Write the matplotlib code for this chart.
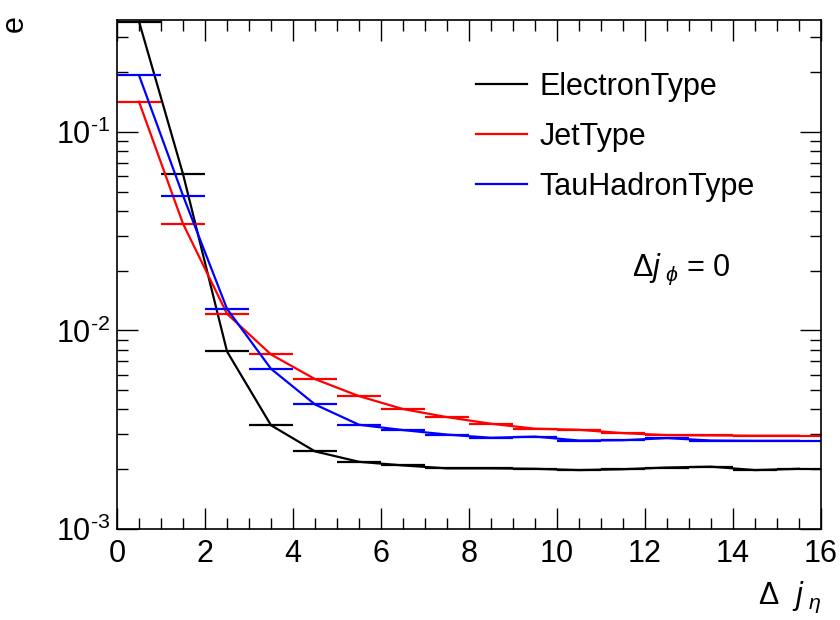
import numpy as np
import matplotlib.pyplot as plt
from matplotlib.ticker import LogLocator, FuncFormatter, MultipleLocator, NullFormatter

plt.rcParams['font.family'] = ['Liberation Sans', 'DejaVu Sans']
plt.rcParams['mathtext.fontset'] = 'custom'
plt.rcParams['mathtext.rm'] = 'Liberation Sans'
plt.rcParams['mathtext.it'] = 'Liberation Sans:italic'
plt.rcParams['mathtext.default'] = 'regular'

BIN_EDGES = np.arange(0, 17, 1)

ELECTRON = [0.36, 0.0614, 0.00784, 0.00333, 0.00246, 0.00218, 0.00209, 0.00202,
            0.00202, 0.00201, 0.00198, 0.00200, 0.00204, 0.00206, 0.00198, 0.00201]
JET = [0.142, 0.0345, 0.01213, 0.00757, 0.00569, 0.00467, 0.00402, 0.00366,
       0.00339, 0.00320, 0.00316, 0.00304, 0.00297, 0.00296, 0.00295, 0.00295]
TAU = [0.193, 0.0478, 0.01285, 0.00641, 0.00424, 0.00335, 0.00315, 0.00299,
       0.00288, 0.00292, 0.00279, 0.00280, 0.00287, 0.00279, 0.00278, 0.00278]

SERIES = (
    ('ElectronType', ELECTRON, 'black'),
    ('JetType', JET, 'red'),
    ('TauHadronType', TAU, 'blue'),
)


def log_label(v, pos):
    exp = int(np.round(np.log10(v)))
    sign = r'\text{-}' if exp < 0 else ''
    return r'$10^{%s%d}$' % (sign, abs(exp))


def main():
    fig = plt.figure(figsize=(8.4, 6.2), dpi=100)
    ax = fig.add_axes([0.1393, 0.1468, 0.8381, 0.8209])

    centers = 0.5 * (BIN_EDGES[:-1] + BIN_EDGES[1:])
    widths = 0.5 * np.diff(BIN_EDGES)

    for name, vals, col in SERIES:
        ax.plot(centers, vals, color=col, lw=1.6, label=name)
        ax.errorbar(centers, vals, xerr=widths, fmt='none', ecolor=col, elinewidth=1.6)

    ax.set_yscale('log')
    ax.set_xlim(0, 16)
    ax.set_ylim(1e-3, 10 ** -0.436)

    ax.xaxis.set_major_locator(MultipleLocator(2))
    ax.xaxis.set_minor_locator(MultipleLocator(0.5))
    ax.yaxis.set_major_locator(LogLocator(base=10))
    ax.yaxis.set_minor_locator(LogLocator(base=10, subs=np.arange(2, 10)))
    ax.yaxis.set_major_formatter(FuncFormatter(log_label))
    ax.yaxis.set_minor_formatter(NullFormatter())

    ax.tick_params(which='both', direction='in', top=True, right=True, labelsize=22, width=1)
    ax.tick_params(which='major', length=15)
    ax.tick_params(which='minor', length=8)
    ax.tick_params(axis='x', pad=7)
    ax.tick_params(axis='y', pad=5)
    for sp in ax.spines.values():
        sp.set_linewidth(1.2)

    ax.text(1.0, -0.147, r'$\Delta\ \ \mathit{j}_{\ \mathit{\eta}}$', transform=ax.transAxes,
            ha='right', va='baseline', fontsize=22)
    fig.text(0.018, 0.975, 'e', rotation=90, ha='center', va='top', fontsize=22)

    ax.text(0.7315, 0.497, r'$\Delta \mathit{j}_{\ \mathit{\phi}}$ = 0', transform=ax.transAxes,
            ha='left', va='baseline', fontsize=22)

    ax.legend(loc='upper left', bbox_to_anchor=(0.51, 0.898), frameon=False,
              fontsize=22, handlelength=1.67, handletextpad=0.4, labelspacing=0.65,
              borderpad=0, borderaxespad=0)

    fig.savefig('out.png', dpi=100)


if __name__ == '__main__':
    main()
